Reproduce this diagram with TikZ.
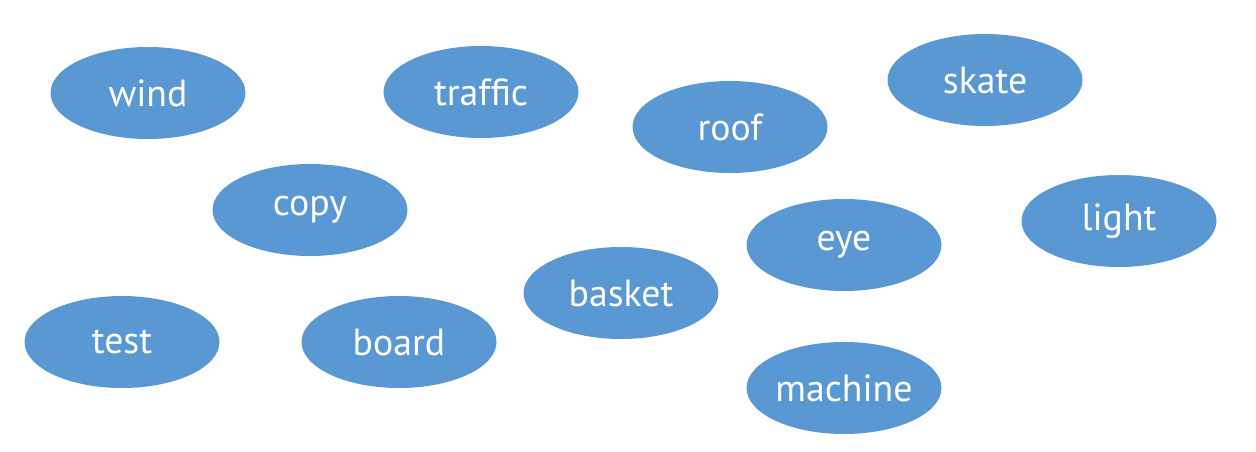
\documentclass[tikz,border=0pt]{standalone}
\usepackage{fontspec}
\setmainfont{PT Sans}
\usetikzlibrary{shapes.geometric}
\definecolor{wordblue}{RGB}{90,152,212}

\begin{document}
\begin{tikzpicture}
  \tikzstyle{word}=[ellipse,fill=wordblue,text=white,minimum width=3.9cm,minimum height=1.84cm,inner sep=0pt,font=\fontsize{21.5}{24}\selectfont]
  \useasboundingbox (0,0) rectangle (25.12,9.02);
  \node[word] (wind) at (2.96,7.16) {wind};
  \node[word] (traffic) at (9.62,7.18) {traffic};
  \node[word] (roof) at (14.60,6.48) {roof};
  \node[word] (skate) at (19.70,7.42) {skate};
  \node[word] (copy) at (6.20,4.82) {copy};
  \node[word] (light) at (22.38,4.60) {light};
  \node[word] (eye) at (16.88,4.12) {eye};
  \node[word] (basket) at (12.42,3.16) {basket};
  \node[word] (test) at (2.44,2.18) {test};
  \node[word] (board) at (7.98,2.18) {board};
  \node[word] (machine) at (16.88,1.26) {machine};
\end{tikzpicture}
\end{document}
